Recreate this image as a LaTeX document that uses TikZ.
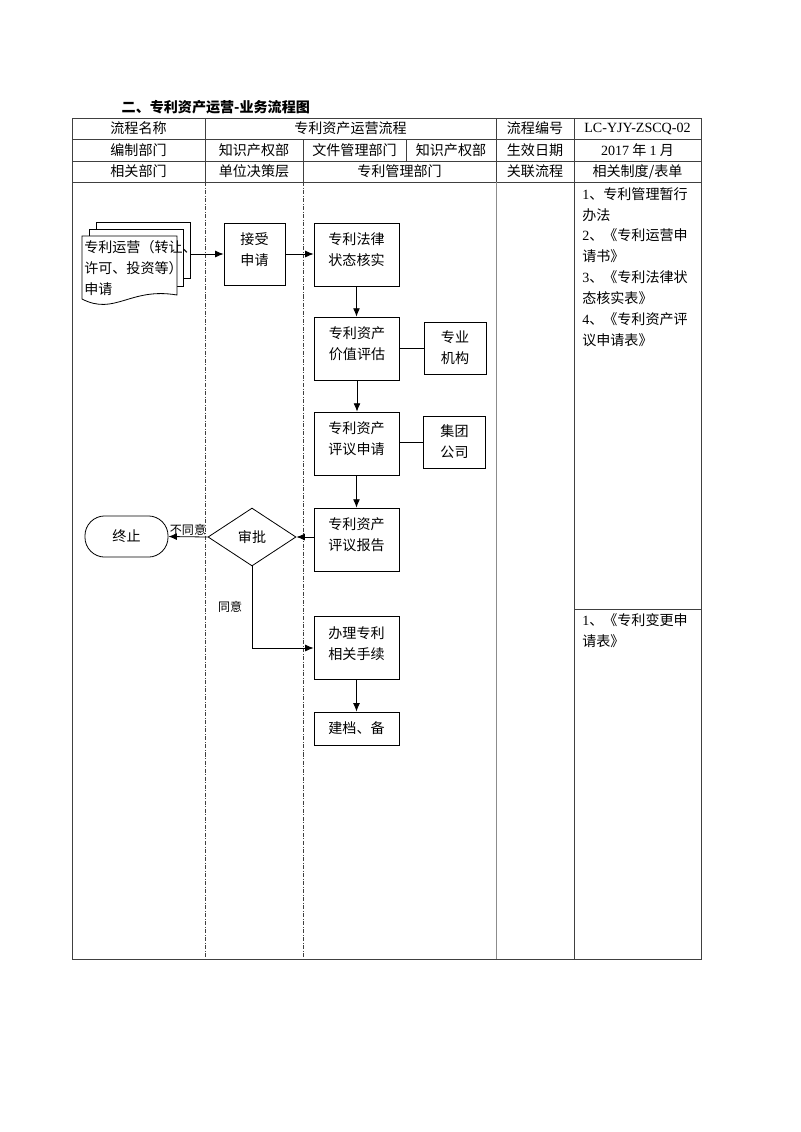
\documentclass[tikz,border=0pt]{standalone}
\usepackage{fontspec}
\setmainfont{Noto Sans CJK SC}
\newfontfamily\lat{Liberation Serif}
\usetikzlibrary{shapes.geometric,arrows.meta}

\begin{document}
\begin{tikzpicture}[x=0.02625cm,y=-0.02625cm,font=\fontsize{10.5}{15.6}\selectfont,
	grid/.style={line width=0.6pt,black!75},
	lane/.style={line width=0.6pt,black!75,dash pattern=on 3pt off 1.2pt on 0.6pt off 1.2pt},
	box/.style={draw,line width=0.6pt,align=center,minimum width=2.23cm,minimum height=1.65cm,inner sep=0pt,text depth=7.5pt},
	sidebox/.style={draw,line width=0.6pt,align=center,minimum width=1.63cm,minimum height=1.37cm,inner sep=0pt},
	page/.style={draw,fill=white,line width=0.6pt,minimum width=2.47cm,inner sep=0pt},
	link/.style={line width=0.6pt},
	arr/.style={line width=0.6pt,-{Latex[length=2.2mm,width=1.8mm]}},
	note/.style={font=\fontsize{9}{11}\selectfont,inner sep=1pt}]
	\useasboundingbox (0,0) rectangle (800,1132);

	\node[anchor=west,font=\bfseries\fontsize{10.5}{12}\selectfont] (title) at (117,107) {二、专利资产运营-业务流程图};

	% table
	\draw[grid] (72,118) rectangle (701,959);
	\foreach \y in {139,161,182} { \draw[grid] (72,\y) -- (701,\y);}
	\foreach \x in {205,496,574} { \draw[grid] (\x,118) -- (\x,182);}
	\draw[grid] (303,139) -- (303,182);
	\draw[grid] (406,139) -- (406,161);
	\draw[grid,black!45] (496,182) -- (496,959);
	\draw[grid] (574,182) -- (574,959);
	\draw[grid] (574,609) -- (701,609);
	\foreach \x in {205,303} { \draw[lane] (\x,182) -- (\x,959);}

	\node (hname) at (138.5,128.5) {流程名称};
	\node (hflow) at (350.5,128.5) {专利资产运营流程};
	\node (hno) at (535,128.5) {流程编号};
	\node (hcode) at (637.5,128.5) {\lat LC-YJY-ZSCQ-02};
	\node (hdept) at (138.5,150) {编制部门};
	\node (hip) at (254,150) {知识产权部};
	\node (hfile) at (354.5,150) {文件管理部门};
	\node (hip2) at (451,150) {知识产权部};
	\node (hdate) at (535,150) {生效日期};
	\node (hday) at (637.5,150) {{\lat 2017} 年 {\lat 1} 月};
	\node (hrel) at (138.5,171.5) {相关部门};
	\node (hboard) at (254,171.5) {单位决策层};
	\node (hpm) at (399.5,171.5) {专利管理部门};
	\node (hlink) at (535,171.5) {关联流程};
	\node (hform) at (637.5,171.5) {相关制度/表单};

	% flow
	\node[page,minimum height=1.45cm] (page3) at (143.7,250.4) {};
	\node[page,minimum height=1.5cm] (page2) at (136,257.5) {};
	\draw[link,fill=white] (82,236) -- (177,236) -- (177,295) .. controls (130,287) and (115,316) .. (82,299) -- cycle;
	\node[anchor=north west,align=left,inner sep=0pt] (request) at (84,240) {专利运营（转让、\\许可、投资等）\\申请};

	\node[box,minimum width=1.6cm,minimum height=1.63cm] (accept) at (254.5,254) {接受\\申请};
	\node[box] (legal) at (356.5,254.5) {专利法律\\状态核实};
	\node[box] (value) at (357,348.5) {专利资产\\价值评估};
	\node[sidebox] (agency) at (455,348) {专业\\机构};
	\node[box] (apply) at (356.5,443.5) {专利资产\\评议申请};
	\node[sidebox] (group) at (454.5,442) {集团\\公司};
	\node[box] (report) at (356.5,539.5) {专利资产\\评议报告};
	\node[draw,diamond,line width=0.6pt,aspect=1.5,minimum width=2.31cm,minimum height=1.52cm,inner sep=0pt] (approve) at (252,537) {审批};
	\node[draw,line width=0.6pt,rounded corners=0.52cm,minimum width=2.18cm,minimum height=1.08cm] (stop) at (126.5,536.5) {终止};
	\node[box] (handle) at (356.5,648) {办理专利\\相关手续};
	\node[sidebox,minimum width=2.23cm,minimum height=0.87cm] (archive) at (356.5,728.5) {建档、备};

	\draw[arr] (page3.east |- accept.west) -- (accept.west);
	\draw[arr] (accept.east) -- (legal.west |- accept.east);
	\draw[arr] (legal.south) -- (legal.south |- value.north);
	\draw[link] (value.east |- agency.west) -- (agency.west);
	\draw[arr] (value.south) -- (value.south |- apply.north);
	\draw[link] (apply.east |- group.west) -- (group.west);
	\draw[arr] (apply.south) -- (report.north);
	\draw[arr] (report.west |- approve.east) -- (approve.east);
	\draw[arr] (approve.west) -- node[note,above] (refuse) {不同意} (stop.east);
	\draw[arr] (approve.south) |- node[note,pos=0.25,left=6pt] (agree) {同意} (handle.west);
	\draw[arr] (handle.south) -- (archive.north);

	\node[anchor=north west,align=left,inner sep=0pt] (rules) at (582,187) {{\lat 1}、专利管理暂行\\办法\\{\lat 2}、《专利运营申\\请书》\\{\lat 3}、《专利法律状\\态核实表》\\{\lat 4}、《专利资产评\\议申请表》};
	\node[anchor=north west,align=left,inner sep=0pt] (forms) at (582,613) {{\lat 1}、《专利变更申\\请表》};
\end{tikzpicture}
\end{document}
